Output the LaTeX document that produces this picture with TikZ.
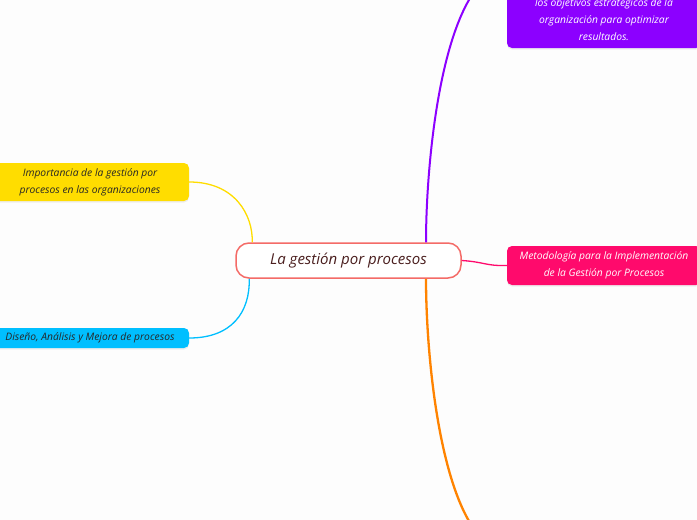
\documentclass[tikz,border=0pt]{standalone}
\usepackage{fontspec}
\setmainfont{Open Sans}
\usetikzlibrary{shadows}

\definecolor{bgpaper}{HTML}{FDFDFD}
\definecolor{rootline}{HTML}{F46B67}
\definecolor{roottext}{HTML}{4A1E1E}
\definecolor{mmpurple}{HTML}{8C00FF}
\definecolor{mmpink}{HTML}{FF0A6C}
\definecolor{mmyellow}{HTML}{FFDD00}
\definecolor{mmblue}{HTML}{00BFFF}
\definecolor{mmorange}{HTML}{FF8300}

\begin{document}
\begin{tikzpicture}[x=1pt,y=-1pt,
    topic/.style={rectangle,rounded corners=5pt,inner sep=0pt,align=center,
        drop shadow={opacity=0.12,shadow xshift=0pt,shadow yshift=-1.5pt},
        font=\itshape\fontsize{10.3}{17}\selectfont},
    branch/.style={line width=1.3pt}]
    \fill[bgpaper] (0,0) rectangle (697,520);
    \useasboundingbox (0,0) rectangle (697,520);
    \clip (0,0) rectangle (697,520);

    \node[draw=rootline,line width=1.5pt,fill=white,rounded corners=13pt,
        minimum width=225pt,minimum height=35pt,inner sep=0pt,text=roottext,
        font=\itshape\fontsize{15}{17}\selectfont] (root) at (348.5,260.5) {La gestión por procesos};

    \node[topic,fill=mmpurple,text=white,minimum width=194pt,minimum height=56pt] (goals) at (604,20)
        {los objetivos estratégicos de la\\organización para optimizar\\resultados.};
    \node[topic,fill=mmpink,text=white,minimum width=194pt,minimum height=39pt] (method) at (604,265.5)
        {Metodología para la Implementación\\de la Gestión por Procesos};
    \node[topic,fill=mmyellow,text=black!85,minimum width=198pt,minimum height=38pt] (importance) at (90,182)
        {Importancia de la gestión por\\procesos en las organizaciones};
    \node[topic,fill=mmblue,text=black!85,minimum width=198pt,minimum height=20pt] (design) at (90,338)
        {Diseño, Análisis y Mejora de procesos};

    % branches leaving the picture
    \coordinate (up) at (500,-30);
    \coordinate (down) at (500,551);

    \draw[branch,mmpurple,line width=2pt] ([xshift=77.5pt]root.north) .. controls (426,160) and (442,-10) .. (up);
    \draw[branch,mmorange,line width=2.3pt] ([xshift=77.5pt]root.south) .. controls (426,361) and (442,531) .. (down);
    \draw[branch,mmpink] (root.east) .. controls (485,262) and (485,266) .. (method.west);
    \draw[branch,mmyellow] (importance.east) .. controls (235,182) and (253,215) .. ([xshift=17pt]root.north west);
    \draw[branch,mmblue] ([xshift=14pt]root.south west) .. controls (250,312) and (232,338) .. (design.east);
\end{tikzpicture}
\end{document}
